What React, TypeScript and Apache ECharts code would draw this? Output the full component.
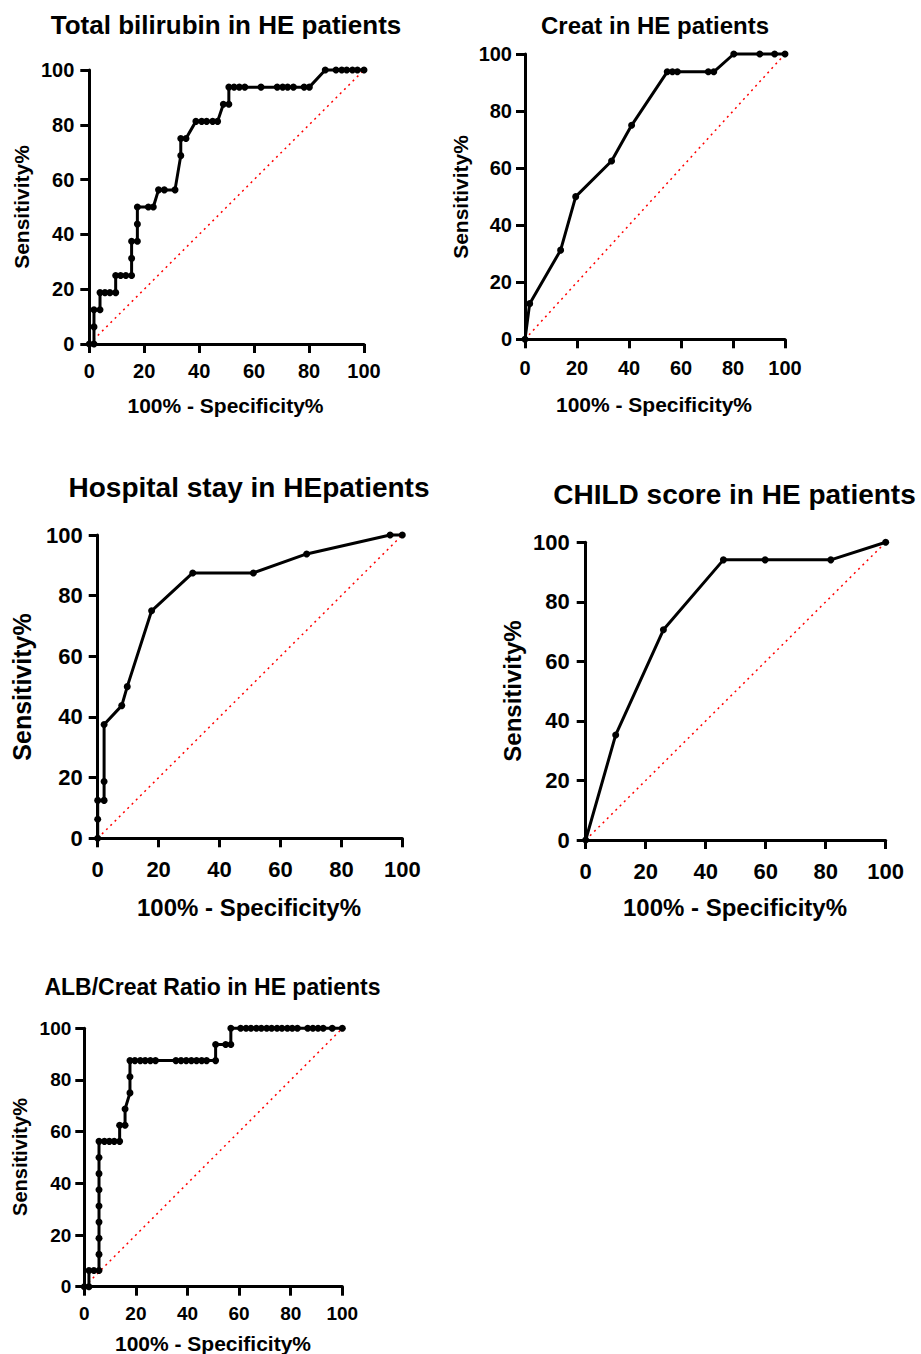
import React, { useEffect, useRef } from "react";
import * as echarts from "echarts";

// ---------- DATA ----------
const xTicks = [0, 20, 40, 60, 80, 100];

const bilirubinX = [0, 1.7, 1.7, 1.7, 3.9, 3.9, 5.7, 7.5, 9.6, 9.6, 11.4, 13.3, 15.4, 15.4, 15.4, 17.5, 17.5, 17.5, 21.5, 23.3, 25.2, 27.3, 31.2, 33.3, 33.3, 35.2, 38.8, 40.9, 42.7, 44.9, 46.7, 48.8, 50.8, 50.8, 52.7, 54.6, 56.6, 62.5, 68.4, 70.4, 72.2, 74.3, 78.2, 80.1, 85.9, 89.8, 91.9, 93.7, 95.8, 97.6, 100];
const bilirubinY = [0, 0, 6.25, 12.5, 12.5, 18.75, 18.75, 18.75, 18.75, 25, 25, 25, 25, 31.25, 37.5, 37.5, 43.75, 50, 50, 50, 56.25, 56.25, 56.25, 68.75, 75, 75, 81.25, 81.25, 81.25, 81.25, 81.25, 87.5, 87.5, 93.75, 93.75, 93.75, 93.75, 93.75, 93.75, 93.75, 93.75, 93.75, 93.75, 93.75, 100, 100, 100, 100, 100, 100, 100];

const creatX = [0, 1.8, 13.7, 19.5, 33.3, 41, 54.7, 56.7, 58.6, 70.5, 72.6, 80.3, 90.3, 96, 100];
const creatY = [0, 12.5, 31.25, 50, 62.5, 75, 93.75, 93.75, 93.75, 93.75, 93.75, 100, 100, 100, 100];

const hospitalX = [0, 0, 0, 2.1, 2.1, 2.1, 7.9, 9.7, 17.7, 31.2, 51.1, 68.6, 96, 100];
const hospitalY = [0, 6.25, 12.5, 12.5, 18.75, 37.5, 43.75, 50, 75, 87.5, 87.5, 93.75, 100, 100];

const childX = [0, 10, 25.9, 45.9, 59.8, 81.7, 100];
const childY = [0, 35.3, 70.6, 94.1, 94.1, 94.1, 100];

const albX = [0, 1.8, 1.8, 3.7, 5.7, 5.7, 5.7, 5.7, 5.7, 5.7, 5.7, 5.7, 5.7, 7.8, 9.7, 11.6, 13.7, 13.7, 15.8, 15.8, 17.7, 17.7, 17.7, 19.6, 21.7, 23.6, 25.6, 27.6, 35.5, 37.5, 39.5, 41.5, 43.5, 45.5, 47.4, 50.9, 50.9, 54.8, 56.8, 56.8, 60.6, 62.7, 64.6, 66.7, 68.6, 70.7, 72.6, 74.7, 76.6, 78.7, 80.6, 82.6, 86.6, 88.6, 90.6, 92.6, 96.1, 100];
const albY = [0, 0, 6.25, 6.25, 6.25, 12.5, 18.75, 25, 31.25, 37.5, 43.75, 50, 56.25, 56.25, 56.25, 56.25, 56.25, 62.5, 62.5, 68.75, 75, 81.25, 87.5, 87.5, 87.5, 87.5, 87.5, 87.5, 87.5, 87.5, 87.5, 87.5, 87.5, 87.5, 87.5, 87.5, 93.75, 93.75, 93.75, 100, 100, 100, 100, 100, 100, 100, 100, 100, 100, 100, 100, 100, 100, 100, 100, 100, 100, 100];

const titles = [
  "Total bilirubin in HE patients",
  "Creat in HE patients",
  "Hospital stay in HEpatients",
  "CHILD score in HE patients",
  "ALB/Creat Ratio in HE patients",
];
const xName = "100% - Specificity%";
const yName = "Sensitivity%";

// ---------- LAYOUT ----------
type Panel = {
  xs: number[]; ys: number[];
  left: number; top: number; width: number; height: number;
  title: [number, number, number];
  xn: [number, number, number];
  yn: [number, number, number];
  tick: number; xMargin: number; yMargin: number;
};

const panels: Panel[] = [
  { xs: bilirubinX, ys: bilirubinY, left: 89.3, top: 70, width: 274.7, height: 274, title: [226, 25, 26], xn: [225.5, 405, 21], yn: [21, 207, 21], tick: 20, xMargin: 17, yMargin: 15 },
  { xs: creatX, ys: creatY, left: 525, top: 54, width: 260, height: 285.3, title: [655, 25, 24], xn: [654, 404, 21], yn: [460, 197, 21], tick: 20, xMargin: 19, yMargin: 13 },
  { xs: hospitalX, ys: hospitalY, left: 97.7, top: 535, width: 304.6, height: 303.3, title: [249, 487, 28], xn: [249, 907, 24], yn: [22, 687, 25], tick: 22, xMargin: 20, yMargin: 15 },
  { xs: childX, ys: childY, left: 585.7, top: 542.3, width: 300, height: 297.7, title: [734.5, 494, 28], xn: [735, 907, 24], yn: [512, 691, 24], tick: 22, xMargin: 20, yMargin: 16 },
  { xs: albX, ys: albY, left: 84.3, top: 1028.3, width: 258, height: 258.4, title: [212.5, 987, 23], xn: [213, 1343, 21], yn: [20, 1157, 20], tick: 19, xMargin: 17, yMargin: 13 },
];

const FONT = '"Liberation Sans", Arial, Helvetica, sans-serif';

export default function App() {
  const ref = useRef<HTMLDivElement>(null);
  useEffect(() => {
    if (!ref.current) return;
    const chart = echarts.init(ref.current, undefined, { renderer: "svg" });
    const grid: any[] = [];
    const xAxis: any[] = [];
    const yAxis: any[] = [];
    const series: any[] = [];
    const graphic: any[] = [];

    panels.forEach((p, i) => {
      grid.push({ left: p.left, top: p.top, width: p.width, height: p.height, containLabel: false });
      const axisCommon = (margin: number) => ({
        type: "value",
        min: xTicks[0],
        max: xTicks[xTicks.length - 1],
        interval: 20,
        gridIndex: i,
        splitLine: { show: false },
        axisLine: { show: true, onZero: false, lineStyle: { color: "#000", width: 3 } },
        axisTick: { show: true, length: 9, lineStyle: { color: "#000", width: 3 } },
        axisLabel: { color: "#000", fontSize: p.tick, fontWeight: "bold", fontFamily: FONT, margin },
      });
      xAxis.push({ ...axisCommon(p.xMargin), position: "bottom" });
      yAxis.push({ ...axisCommon(p.yMargin), position: "left" });

      series.push({
        type: "line",
        xAxisIndex: i,
        yAxisIndex: i,
        data: [[0, 0], [100, 100]],
        symbol: "none",
        silent: true,
        lineStyle: { color: "#ff0000", width: 1.5, type: [2, 4] },
        z: 1,
      });
      series.push({
        type: "line",
        xAxisIndex: i,
        yAxisIndex: i,
        data: p.xs.map((x, k) => [x, p.ys[k]]),
        symbol: "circle",
        symbolSize: 7,
        showAllSymbol: true,
        clip: false,
        itemStyle: { color: "#000" },
        lineStyle: { color: "#000", width: 3 },
        z: 3,
      });

      graphic.push({
        type: "text",
        x: p.title[0],
        y: p.title[1],
        style: { text: titles[i], fill: "#000", fontSize: p.title[2], fontWeight: "bold", fontFamily: FONT, align: "center", verticalAlign: "middle" },
      });
      graphic.push({
        type: "text",
        x: p.xn[0],
        y: p.xn[1],
        style: { text: xName, fill: "#000", fontSize: p.xn[2], fontWeight: "bold", fontFamily: FONT, align: "center", verticalAlign: "middle" },
      });
      graphic.push({
        type: "text",
        x: p.yn[0],
        y: p.yn[1],
        rotation: Math.PI / 2,
        style: { text: yName, fill: "#000", fontSize: p.yn[2], fontWeight: "bold", fontFamily: FONT, align: "center", verticalAlign: "middle" },
      });
    });

    chart.setOption({
      animation: false,
      backgroundColor: "#fff",
      grid,
      xAxis,
      yAxis,
      series,
      graphic,
    });
    return () => chart.dispose();
  }, []);

  return <div ref={ref} style={{ position: "absolute", left: 0, top: 0, width: 921, height: 1354 }} />;
}
